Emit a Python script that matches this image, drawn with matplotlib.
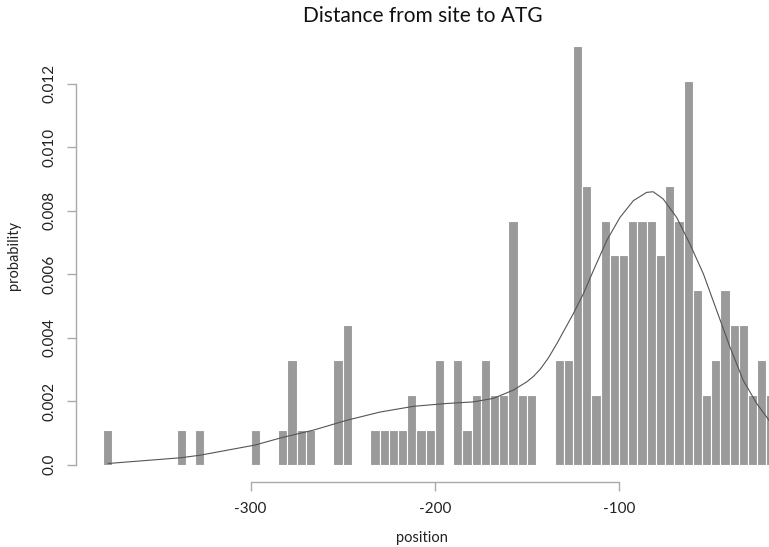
import numpy as np
import matplotlib
matplotlib.use("Agg")
import matplotlib.pyplot as plt

# Histogram of site positions: left edge of each 5-bp bin and its count
bin_left = [-380, -340, -330, -300, -285, -280, -275, -270, -255, -250,
            -235, -230, -225, -220, -215, -210, -205, -200, -190, -185,
            -180, -175, -170, -165, -160, -155, -150, -135, -130, -125,
            -120, -115, -110, -105, -100, -95, -90, -85, -80, -75,
            -70, -65, -60, -55, -50, -45, -40, -35, -30, -25, -20]
counts = [1, 1, 1, 1, 1, 3, 1, 1, 3, 4,
          1, 1, 1, 1, 2, 1, 1, 3, 3, 1,
          2, 3, 2, 2, 7, 2, 2, 3, 3, 12,
          8, 2, 7, 6, 6, 7, 7, 7, 6, 8,
          7, 11, 5, 2, 3, 5, 4, 4, 2, 3, 2]
bin_width = 5

# Smoothed density curve
curve_x = [-377.2, -337.9, -327.4, -297.6, -282.7, -265.9, -247.8, -229.7,
           -211.6, -193.5, -179.1, -168.2, -157.4, -150.1, -146.5, -142.9, -138.5, -133.8,
           -124.8, -119.4, -113.9, -106.7, -99.5, -92.2, -85.0, -81.5,
           -78.3, -76.0, -68.7, -61.5, -54.2, -47.0, -39.8, -32.6, -25.3, -18.6]
curve_y = [0.00004, 0.00022, 0.00030, 0.00062, 0.00086, 0.00109, 0.00140, 0.00166,
           0.00184, 0.00193, 0.00198, 0.00209, 0.00235, 0.00261, 0.00278, 0.00300, 0.00335, 0.00381,
           0.00476, 0.00538, 0.00612, 0.00706, 0.00779, 0.00832, 0.00858, 0.00860,
           0.00847, 0.00837, 0.00779, 0.00695, 0.00601, 0.00486, 0.00371, 0.00266, 0.00193, 0.00140]

x_ticks = [-300, -200, -100]
y_ticks = [0.0, 0.002, 0.004, 0.006, 0.008, 0.010, 0.012]
y_tick_labels = ["0.0", "0.002", "0.004", "0.006", "0.008", "0.010", "0.012"]

plt.rcParams["font.family"] = ["Lato", "DejaVu Sans"]

W, H = 769, 547
fig = plt.figure(figsize=(W / 100, H / 100), dpi=100)
left, right, bottom, top = 75.7, 769.0, 481.5, 28.9
ax = fig.add_axes([left / W, 1 - bottom / H, (right - left) / W, (bottom - top) / H])

total = sum(counts)
density = np.array(counts) / (total * bin_width)
ax.bar(bin_left, density, width=bin_width, align="edge",
       color="#9a9a9a", edgecolor="white", linewidth=0.8)
ax.plot(curve_x, curve_y, color="#555555", linewidth=0.8)

ax.set_xlim(-394.9, -18.6)
ax.set_ylim(-0.000528, 0.01373)

for side in ("top", "right"):
    ax.spines[side].set_visible(False)
ax.spines["bottom"].set_bounds(-300, -100)
ax.spines["left"].set_bounds(0, 0.012)
for side in ("bottom", "left"):
    ax.spines[side].set_color("#aaaaaa")
    ax.spines[side].set_linewidth(1.0)

ax.set_xticks(x_ticks)
ax.set_xticklabels([str(v) for v in x_ticks])
ax.set_yticks(y_ticks)
ax.set_yticklabels(y_tick_labels, rotation=90, va="center")
ax.tick_params(axis="both", length=6.5, width=1.0, color="#aaaaaa",
               labelsize=11, labelcolor="#222222")
ax.tick_params(axis="x", pad=8)
ax.tick_params(axis="y", pad=7)

fig.text((left + right) / 2 / W, 1 - 16 / H, "Distance from site to ATG",
         ha="center", va="center", fontsize=15, color="#111111")
fig.text((left + right) / 2 / W, 1 - 538 / H, "position",
         ha="center", va="center", fontsize=10.5, color="#222222")
fig.text(14 / W, 1 - 255 / H, "probability", rotation=90,
         ha="center", va="center", fontsize=10.5, color="#222222")

fig.savefig("out.png", dpi=100)
